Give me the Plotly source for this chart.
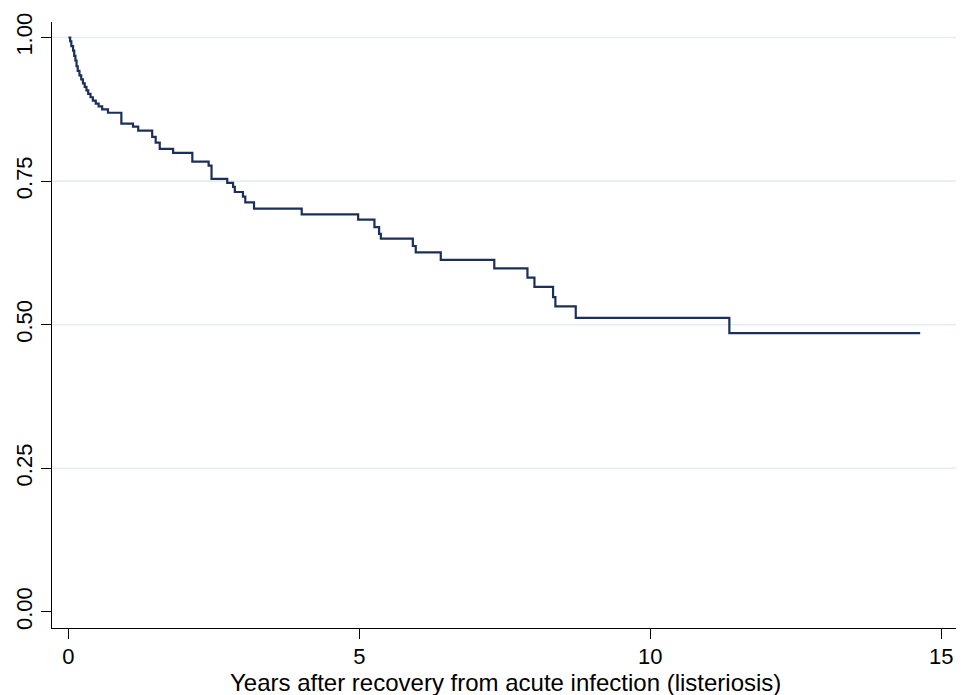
import plotly.graph_objects as go

# Kaplan-Meier estimate
years = [0, 0.03, 0.05, 0.08, 0.10, 0.12, 0.14, 0.16, 0.19, 0.22, 0.25, 0.28, 0.31,
         0.34, 0.38, 0.42, 0.47, 0.52, 0.58, 0.68, 0.91, 1.11, 1.20, 1.44, 1.50,
         1.57, 1.80, 2.13, 2.41, 2.46, 2.73, 2.83, 2.86, 3.00, 3.04, 3.19, 4.01,
         4.98, 5.26, 5.34, 5.37, 5.92, 5.97, 6.40, 7.32, 7.89, 8.01, 8.33, 8.37,
         8.72, 11.36, 14.64]
survival = [1.0, 0.9935, 0.985, 0.977, 0.968, 0.960, 0.950, 0.942, 0.934, 0.927,
            0.920, 0.914, 0.908, 0.902, 0.896, 0.890, 0.885, 0.880, 0.875, 0.869,
            0.850, 0.845, 0.838, 0.827, 0.817, 0.806, 0.799, 0.784, 0.777, 0.754,
            0.747, 0.740, 0.731, 0.723, 0.713, 0.702, 0.692, 0.683, 0.670, 0.658,
            0.650, 0.637, 0.626, 0.613, 0.598, 0.582, 0.566, 0.548, 0.532, 0.512,
            0.4855, 0.4855]

x_ticks = [0, 5, 10, 15]
y_ticks = [0.00, 0.25, 0.50, 0.75, 1.00]
y_tick_labels = ["0.00", "0.25", "0.50", "0.75", "1.00"]
grid_values = [0.25, 0.50, 0.75, 1.00]
x_title = "Years after recovery from acute infection (listeriosis)"

FONT = "Liberation Sans, Arial, sans-serif"

fig = go.Figure()
fig.add_trace(go.Scatter(
    x=years, y=survival, mode="lines",
    line=dict(shape="hv", color="#1a2f5a", width=2.2),
    hoverinfo="skip", showlegend=False,
))

for g in grid_values:
    fig.add_shape(type="line", xref="paper", x0=0, x1=1, yref="y", y0=g, y1=g,
                  line=dict(color="#e4edf1", width=1.6), layer="below")

fig.add_annotation(text=x_title, xref="paper", yref="paper", x=0.5, y=-0.0895,
                   xanchor="center", yanchor="middle", showarrow=False,
                   borderpad=0,
                   font=dict(size=24, family=FONT, color="black"))

# page body adds an 8px offset, so the figure is sized to the remaining area
fig.update_layout(
    width=956, height=687,
    margin=dict(l=44, r=6, t=14, b=67, autoexpand=False),
    paper_bgcolor="white", plot_bgcolor="white",
    font=dict(family=FONT, size=22, color="black"),
    showlegend=False,
)
fig.update_xaxes(
    range=[-0.282, 15.29], tickvals=x_ticks, ticktext=[str(v) for v in x_ticks],
    showgrid=False, zeroline=False, automargin=False,
    showline=True, linecolor="black", linewidth=1.3,
    ticks="outside", ticklen=10, tickwidth=1.3, tickcolor="black",
    tickfont=dict(size=22, family=FONT), ticklabelstandoff=-2,
)
fig.update_yaxes(
    range=[-0.028, 1.027], tickvals=y_ticks, ticktext=y_tick_labels,
    showgrid=False, zeroline=False, automargin=False,
    showline=True, linecolor="black", linewidth=1.3,
    ticks="outside", ticklen=10, tickwidth=1.3, tickcolor="black",
    tickangle=-90, tickfont=dict(size=22, family=FONT),
)

fig.write_html("out.html")
